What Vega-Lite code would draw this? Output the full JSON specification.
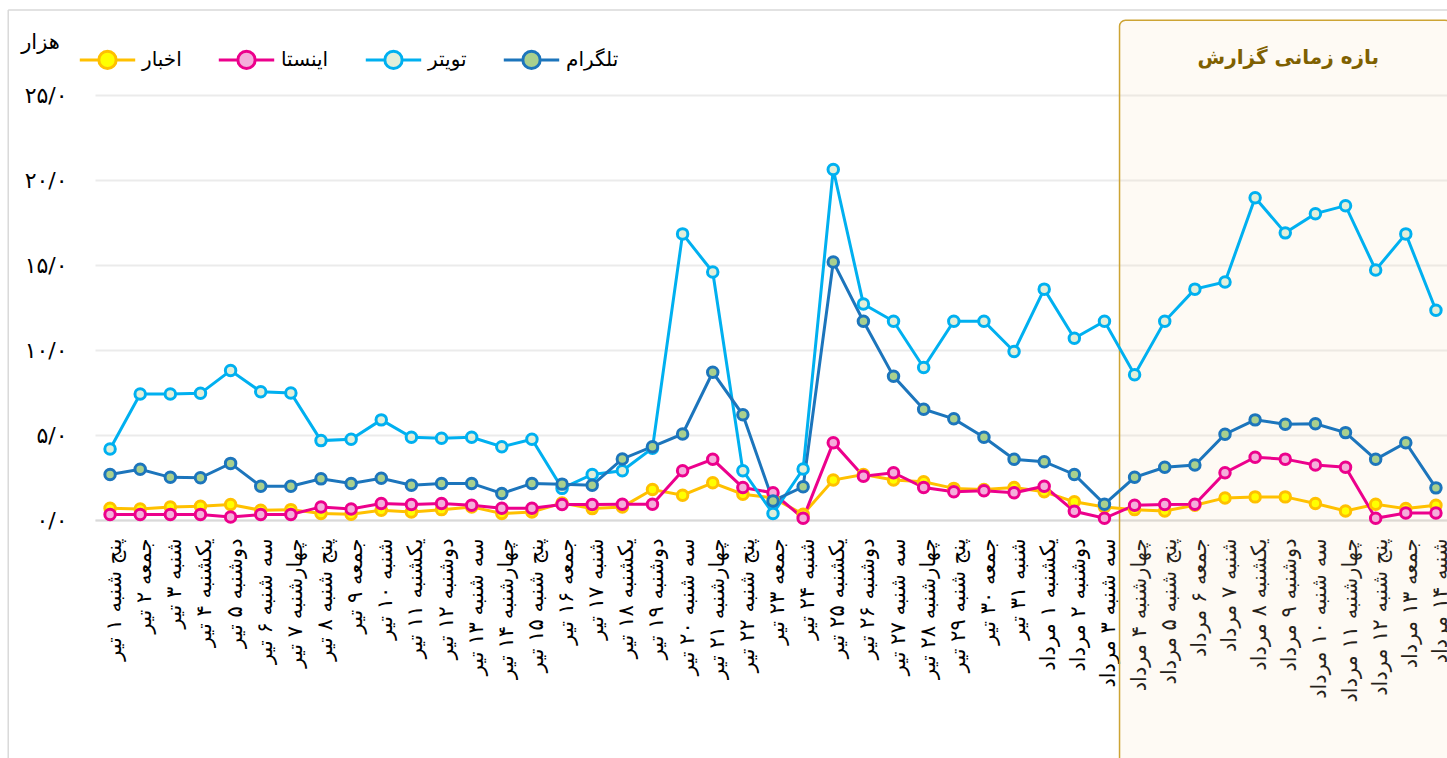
{
"$schema":"https://vega.github.io/schema/vega-lite/v6.json",
"width":1350,"height":425,
"autosize":{"type":"none"},
"padding":{"left":97,"top":95,"right":0,"bottom":238},
"background":"white",
"config":{"view":{"stroke":null},"font":"DejaVu Sans","text":{"font":"DejaVu Sans"}},
"datasets":{
"period":[{"start":"چهارشنبه ۴ مرداد","end":"شنبه ۱۴ مرداد","title":"بازه زمانی گزارش"}],
"frame":[{"first":"پنج شنبه ۱ تیر","last":"شنبه ۱۴ مرداد"}],
"main":[
{"day":"پنج شنبه ۱ تیر","series":"اخبار","value":0.69},
{"day":"جمعه ۲ تیر","series":"اخبار","value":0.65},
{"day":"شنبه ۳ تیر","series":"اخبار","value":0.77},
{"day":"یکشنبه ۴ تیر","series":"اخبار","value":0.81},
{"day":"دوشنبه ۵ تیر","series":"اخبار","value":0.91},
{"day":"سه شنبه ۶ تیر","series":"اخبار","value":0.57},
{"day":"چهارشنبه ۷ تیر","series":"اخبار","value":0.61},
{"day":"پنج شنبه ۸ تیر","series":"اخبار","value":0.38},
{"day":"جمعه ۹ تیر","series":"اخبار","value":0.34},
{"day":"شنبه ۱۰ تیر","series":"اخبار","value":0.57},
{"day":"یکشنبه ۱۱ تیر","series":"اخبار","value":0.47},
{"day":"دوشنبه ۱۲ تیر","series":"اخبار","value":0.61},
{"day":"سه شنبه ۱۳ تیر","series":"اخبار","value":0.77},
{"day":"چهارشنبه ۱۴ تیر","series":"اخبار","value":0.38},
{"day":"پنج شنبه ۱۵ تیر","series":"اخبار","value":0.47},
{"day":"جمعه ۱۶ تیر","series":"اخبار","value":1.0},
{"day":"شنبه ۱۷ تیر","series":"اخبار","value":0.67},
{"day":"یکشنبه ۱۸ تیر","series":"اخبار","value":0.77},
{"day":"دوشنبه ۱۹ تیر","series":"اخبار","value":1.79},
{"day":"سه شنبه ۲۰ تیر","series":"اخبار","value":1.46},
{"day":"چهارشنبه ۲۱ تیر","series":"اخبار","value":2.19},
{"day":"پنج شنبه ۲۲ تیر","series":"اخبار","value":1.52},
{"day":"جمعه ۲۳ تیر","series":"اخبار","value":1.3},
{"day":"شنبه ۲۴ تیر","series":"اخبار","value":0.34},
{"day":"یکشنبه ۲۵ تیر","series":"اخبار","value":2.35},
{"day":"دوشنبه ۲۶ تیر","series":"اخبار","value":2.68},
{"day":"سه شنبه ۲۷ تیر","series":"اخبار","value":2.35},
{"day":"چهارشنبه ۲۸ تیر","series":"اخبار","value":2.25},
{"day":"پنج شنبه ۲۹ تیر","series":"اخبار","value":1.86},
{"day":"جمعه ۳۰ تیر","series":"اخبار","value":1.79},
{"day":"شنبه ۳۱ تیر","series":"اخبار","value":1.91},
{"day":"یکشنبه ۱ مرداد","series":"اخبار","value":1.66},
{"day":"دوشنبه ۲ مرداد","series":"اخبار","value":1.07},
{"day":"سه شنبه ۳ مرداد","series":"اخبار","value":0.77},
{"day":"چهارشنبه ۴ مرداد","series":"اخبار","value":0.61},
{"day":"پنج شنبه ۵ مرداد","series":"اخبار","value":0.53},
{"day":"جمعه ۶ مرداد","series":"اخبار","value":0.87},
{"day":"شنبه ۷ مرداد","series":"اخبار","value":1.3},
{"day":"یکشنبه ۸ مرداد","series":"اخبار","value":1.36},
{"day":"دوشنبه ۹ مرداد","series":"اخبار","value":1.36},
{"day":"سه شنبه ۱۰ مرداد","series":"اخبار","value":0.97},
{"day":"چهارشنبه ۱۱ مرداد","series":"اخبار","value":0.53},
{"day":"پنج شنبه ۱۲ مرداد","series":"اخبار","value":0.93},
{"day":"جمعه ۱۳ مرداد","series":"اخبار","value":0.67},
{"day":"شنبه ۱۴ مرداد","series":"اخبار","value":0.87},
{"day":"پنج شنبه ۱ تیر","series":"اینستا","value":0.32},
{"day":"جمعه ۲ تیر","series":"اینستا","value":0.32},
{"day":"شنبه ۳ تیر","series":"اینستا","value":0.32},
{"day":"یکشنبه ۴ تیر","series":"اینستا","value":0.32},
{"day":"دوشنبه ۵ تیر","series":"اینستا","value":0.18},
{"day":"سه شنبه ۶ تیر","series":"اینستا","value":0.32},
{"day":"چهارشنبه ۷ تیر","series":"اینستا","value":0.32},
{"day":"پنج شنبه ۸ تیر","series":"اینستا","value":0.77},
{"day":"جمعه ۹ تیر","series":"اینستا","value":0.65},
{"day":"شنبه ۱۰ تیر","series":"اینستا","value":0.97},
{"day":"یکشنبه ۱۱ تیر","series":"اینستا","value":0.91},
{"day":"دوشنبه ۱۲ تیر","series":"اینستا","value":0.97},
{"day":"سه شنبه ۱۳ تیر","series":"اینستا","value":0.87},
{"day":"چهارشنبه ۱۴ تیر","series":"اینستا","value":0.69},
{"day":"پنج شنبه ۱۵ تیر","series":"اینستا","value":0.69},
{"day":"جمعه ۱۶ تیر","series":"اینستا","value":0.91},
{"day":"شنبه ۱۷ تیر","series":"اینستا","value":0.91},
{"day":"یکشنبه ۱۸ تیر","series":"اینستا","value":0.93},
{"day":"دوشنبه ۱۹ تیر","series":"اینستا","value":0.93},
{"day":"سه شنبه ۲۰ تیر","series":"اینستا","value":2.9},
{"day":"چهارشنبه ۲۱ تیر","series":"اینستا","value":3.57},
{"day":"پنج شنبه ۲۲ تیر","series":"اینستا","value":1.91},
{"day":"جمعه ۲۳ تیر","series":"اینستا","value":1.6},
{"day":"شنبه ۲۴ تیر","series":"اینستا","value":0.1},
{"day":"یکشنبه ۲۵ تیر","series":"اینستا","value":4.55},
{"day":"دوشنبه ۲۶ تیر","series":"اینستا","value":2.58},
{"day":"سه شنبه ۲۷ تیر","series":"اینستا","value":2.78},
{"day":"چهارشنبه ۲۸ تیر","series":"اینستا","value":1.91},
{"day":"پنج شنبه ۲۹ تیر","series":"اینستا","value":1.66},
{"day":"جمعه ۳۰ تیر","series":"اینستا","value":1.72},
{"day":"شنبه ۳۱ تیر","series":"اینستا","value":1.6},
{"day":"یکشنبه ۱ مرداد","series":"اینستا","value":1.99},
{"day":"دوشنبه ۲ مرداد","series":"اینستا","value":0.51},
{"day":"سه شنبه ۳ مرداد","series":"اینستا","value":0.1},
{"day":"چهارشنبه ۴ مرداد","series":"اینستا","value":0.87},
{"day":"پنج شنبه ۵ مرداد","series":"اینستا","value":0.91},
{"day":"جمعه ۶ مرداد","series":"اینستا","value":0.93},
{"day":"شنبه ۷ مرداد","series":"اینستا","value":2.78},
{"day":"یکشنبه ۸ مرداد","series":"اینستا","value":3.69},
{"day":"دوشنبه ۹ مرداد","series":"اینستا","value":3.58},
{"day":"سه شنبه ۱۰ مرداد","series":"اینستا","value":3.23},
{"day":"چهارشنبه ۱۱ مرداد","series":"اینستا","value":3.1},
{"day":"پنج شنبه ۱۲ مرداد","series":"اینستا","value":0.1},
{"day":"جمعه ۱۳ مرداد","series":"اینستا","value":0.41},
{"day":"شنبه ۱۴ مرداد","series":"اینستا","value":0.41},
{"day":"پنج شنبه ۱ تیر","series":"تویتر","value":4.18},
{"day":"جمعه ۲ تیر","series":"تویتر","value":7.41},
{"day":"شنبه ۳ تیر","series":"تویتر","value":7.41},
{"day":"یکشنبه ۴ تیر","series":"تویتر","value":7.45},
{"day":"دوشنبه ۵ تیر","series":"تویتر","value":8.79},
{"day":"سه شنبه ۶ تیر","series":"تویتر","value":7.55},
{"day":"چهارشنبه ۷ تیر","series":"تویتر","value":7.47},
{"day":"پنج شنبه ۸ تیر","series":"تویتر","value":4.67},
{"day":"جمعه ۹ تیر","series":"تویتر","value":4.75},
{"day":"شنبه ۱۰ تیر","series":"تویتر","value":5.89},
{"day":"یکشنبه ۱۱ تیر","series":"تویتر","value":4.87},
{"day":"دوشنبه ۱۲ تیر","series":"تویتر","value":4.81},
{"day":"سه شنبه ۱۳ تیر","series":"تویتر","value":4.87},
{"day":"چهارشنبه ۱۴ تیر","series":"تویتر","value":4.31},
{"day":"پنج شنبه ۱۵ تیر","series":"تویتر","value":4.75},
{"day":"جمعه ۱۶ تیر","series":"تویتر","value":1.86},
{"day":"شنبه ۱۷ تیر","series":"تویتر","value":2.68},
{"day":"یکشنبه ۱۸ تیر","series":"تویتر","value":2.9},
{"day":"دوشنبه ۱۹ تیر","series":"تویتر","value":4.22},
{"day":"سه شنبه ۲۰ تیر","series":"تویتر","value":16.83},
{"day":"چهارشنبه ۲۱ تیر","series":"تویتر","value":14.59},
{"day":"پنج شنبه ۲۲ تیر","series":"تویتر","value":2.9},
{"day":"جمعه ۲۳ تیر","series":"تویتر","value":0.38},
{"day":"شنبه ۲۴ تیر","series":"تویتر","value":3.0},
{"day":"یکشنبه ۲۵ تیر","series":"تویتر","value":20.62},
{"day":"دوشنبه ۲۶ تیر","series":"تویتر","value":12.7},
{"day":"سه شنبه ۲۷ تیر","series":"تویتر","value":11.69},
{"day":"چهارشنبه ۲۸ تیر","series":"تویتر","value":8.97},
{"day":"پنج شنبه ۲۹ تیر","series":"تویتر","value":11.69},
{"day":"جمعه ۳۰ تیر","series":"تویتر","value":11.69},
{"day":"شنبه ۳۱ تیر","series":"تویتر","value":9.91},
{"day":"یکشنبه ۱ مرداد","series":"تویتر","value":13.58},
{"day":"دوشنبه ۲ مرداد","series":"تویتر","value":10.69},
{"day":"سه شنبه ۳ مرداد","series":"تویتر","value":11.69},
{"day":"چهارشنبه ۴ مرداد","series":"تویتر","value":8.55},
{"day":"پنج شنبه ۵ مرداد","series":"تویتر","value":11.69},
{"day":"جمعه ۶ مرداد","series":"تویتر","value":13.58},
{"day":"شنبه ۷ مرداد","series":"تویتر","value":14.0},
{"day":"یکشنبه ۸ مرداد","series":"تویتر","value":18.96},
{"day":"دوشنبه ۹ مرداد","series":"تویتر","value":16.89},
{"day":"سه شنبه ۱۰ مرداد","series":"تویتر","value":18.02},
{"day":"چهارشنبه ۱۱ مرداد","series":"تویتر","value":18.49},
{"day":"پنج شنبه ۱۲ مرداد","series":"تویتر","value":14.71},
{"day":"جمعه ۱۳ مرداد","series":"تویتر","value":16.83},
{"day":"شنبه ۱۴ مرداد","series":"تویتر","value":12.34},
{"day":"پنج شنبه ۱ تیر","series":"تلگرام","value":2.68},
{"day":"جمعه ۲ تیر","series":"تلگرام","value":2.98},
{"day":"شنبه ۳ تیر","series":"تلگرام","value":2.51},
{"day":"یکشنبه ۴ تیر","series":"تلگرام","value":2.48},
{"day":"دوشنبه ۵ تیر","series":"تلگرام","value":3.33},
{"day":"سه شنبه ۶ تیر","series":"تلگرام","value":1.99},
{"day":"چهارشنبه ۷ تیر","series":"تلگرام","value":1.99},
{"day":"پنج شنبه ۸ تیر","series":"تلگرام","value":2.42},
{"day":"جمعه ۹ تیر","series":"تلگرام","value":2.15},
{"day":"شنبه ۱۰ تیر","series":"تلگرام","value":2.45},
{"day":"یکشنبه ۱۱ تیر","series":"تلگرام","value":2.05},
{"day":"دوشنبه ۱۲ تیر","series":"تلگرام","value":2.15},
{"day":"سه شنبه ۱۳ تیر","series":"تلگرام","value":2.15},
{"day":"چهارشنبه ۱۴ تیر","series":"تلگرام","value":1.56},
{"day":"پنج شنبه ۱۵ تیر","series":"تلگرام","value":2.15},
{"day":"جمعه ۱۶ تیر","series":"تلگرام","value":2.11},
{"day":"شنبه ۱۷ تیر","series":"تلگرام","value":2.05},
{"day":"یکشنبه ۱۸ تیر","series":"تلگرام","value":3.59},
{"day":"دوشنبه ۱۹ تیر","series":"تلگرام","value":4.31},
{"day":"سه شنبه ۲۰ تیر","series":"تلگرام","value":5.06},
{"day":"چهارشنبه ۲۱ تیر","series":"تلگرام","value":8.69},
{"day":"پنج شنبه ۲۲ تیر","series":"تلگرام","value":6.19},
{"day":"جمعه ۲۳ تیر","series":"تلگرام","value":1.12},
{"day":"شنبه ۲۴ تیر","series":"تلگرام","value":1.95},
{"day":"یکشنبه ۲۵ تیر","series":"تلگرام","value":15.18},
{"day":"دوشنبه ۲۶ تیر","series":"تلگرام","value":11.69},
{"day":"سه شنبه ۲۷ تیر","series":"تلگرام","value":8.45},
{"day":"چهارشنبه ۲۸ تیر","series":"تلگرام","value":6.52},
{"day":"پنج شنبه ۲۹ تیر","series":"تلگرام","value":5.95},
{"day":"جمعه ۳۰ تیر","series":"تلگرام","value":4.87},
{"day":"شنبه ۳۱ تیر","series":"تلگرام","value":3.57},
{"day":"یکشنبه ۱ مرداد","series":"تلگرام","value":3.43},
{"day":"دوشنبه ۲ مرداد","series":"تلگرام","value":2.68},
{"day":"سه شنبه ۳ مرداد","series":"تلگرام","value":0.93},
{"day":"چهارشنبه ۴ مرداد","series":"تلگرام","value":2.51},
{"day":"پنج شنبه ۵ مرداد","series":"تلگرام","value":3.1},
{"day":"جمعه ۶ مرداد","series":"تلگرام","value":3.23},
{"day":"شنبه ۷ مرداد","series":"تلگرام","value":5.05},
{"day":"یکشنبه ۸ مرداد","series":"تلگرام","value":5.89},
{"day":"دوشنبه ۹ مرداد","series":"تلگرام","value":5.63},
{"day":"سه شنبه ۱۰ مرداد","series":"تلگرام","value":5.66},
{"day":"چهارشنبه ۱۱ مرداد","series":"تلگرام","value":5.14},
{"day":"پنج شنبه ۱۲ مرداد","series":"تلگرام","value":3.57},
{"day":"جمعه ۱۳ مرداد","series":"تلگرام","value":4.55},
{"day":"شنبه ۱۴ مرداد","series":"تلگرام","value":1.89}
]},
"layer":[
{"data":{"name":"frame"},
 "mark":{"type":"rule","stroke":"#D9D9D9","strokeWidth":1.5},
 "encoding":{
  "x":{"field":"first","type":"nominal","bandPosition":-2.88,
   "scale":{"type":"band","paddingInner":0,"paddingOuter":0,"range":[-2,1354],"domain":["پنج شنبه ۱ تیر","جمعه ۲ تیر","شنبه ۳ تیر","یکشنبه ۴ تیر","دوشنبه ۵ تیر","سه شنبه ۶ تیر","چهارشنبه ۷ تیر","پنج شنبه ۸ تیر","جمعه ۹ تیر","شنبه ۱۰ تیر","یکشنبه ۱۱ تیر","دوشنبه ۱۲ تیر","سه شنبه ۱۳ تیر","چهارشنبه ۱۴ تیر","پنج شنبه ۱۵ تیر","جمعه ۱۶ تیر","شنبه ۱۷ تیر","یکشنبه ۱۸ تیر","دوشنبه ۱۹ تیر","سه شنبه ۲۰ تیر","چهارشنبه ۲۱ تیر","پنج شنبه ۲۲ تیر","جمعه ۲۳ تیر","شنبه ۲۴ تیر","یکشنبه ۲۵ تیر","دوشنبه ۲۶ تیر","سه شنبه ۲۷ تیر","چهارشنبه ۲۸ تیر","پنج شنبه ۲۹ تیر","جمعه ۳۰ تیر","شنبه ۳۱ تیر","یکشنبه ۱ مرداد","دوشنبه ۲ مرداد","سه شنبه ۳ مرداد","چهارشنبه ۴ مرداد","پنج شنبه ۵ مرداد","جمعه ۶ مرداد","شنبه ۷ مرداد","یکشنبه ۸ مرداد","دوشنبه ۹ مرداد","سه شنبه ۱۰ مرداد","چهارشنبه ۱۱ مرداد","پنج شنبه ۱۲ مرداد","جمعه ۱۳ مرداد","شنبه ۱۴ مرداد"]},
   "axis":{"title":null,"labelAngle":-90,"labelFontSize":21,"labelColor":"#000","labelPadding":18,"ticks":false,"domain":true,"domainColor":"#D9D9D9","domainWidth":2,"grid":false,"labelOffset":5,"labelOverlap":false,"labelLimit":0,"labelFont":"DejaVu Sans"}},
  "y":{"datum":30,"type":"quantitative","scale":{"domain":[0,25],"nice":false,"zero":true}},
  "y2":{"datum":-14.5}
 }},
{"data":{"name":"frame"},
 "mark":{"type":"rule","stroke":"#D9D9D9","strokeWidth":1.5},
 "encoding":{
  "x":{"field":"first","type":"nominal","bandPosition":-2.88},
  "x2":{"field":"last","bandPosition":1.5},
  "y":{"datum":30,"type":"quantitative"}
 }},
{"data":{"name":"period"},
 "mark":{"type":"rect","fill":"#F5DEB3","fillOpacity":0.15,"stroke":"#CDA434","strokeWidth":1.5,"cornerRadius":6},
 "encoding":{
  "x":{"field":"start","type":"nominal","bandPosition":0},
  "x2":{"field":"end","bandPosition":1},
  "y":{"datum":29.4,"type":"quantitative"},
  "y2":{"datum":-14.5}
 }},
{"data":{"name":"period"},
 "mark":{"type":"text","fontSize":20,"fontWeight":"bold","color":"#7F6000","font":"DejaVu Sans"},
 "encoding":{
  "x":{"datum":"دوشنبه ۹ مرداد","type":"nominal","bandPosition":0.6},
  "y":{"datum":27.2,"type":"quantitative"},
  "text":{"field":"title"}
 }},
{"data":{"name":"main"},
 "mark":{"type":"line","strokeWidth":3},
 "encoding":{
  "x":{"field":"day","type":"nominal","bandPosition":0.5},
  "y":{"field":"value","type":"quantitative",
   "axis":{"values":[0,5,10,15,20,25],"labelExpr":"datum.value == 0 ? '۰/۰' : datum.value == 5 ? '۵/۰' : datum.value == 10 ? '۱۰/۰' : datum.value == 15 ? '۱۵/۰' : datum.value == 20 ? '۲۰/۰' : '۲۵/۰'","grid":true,"gridColor":"#EBEBEB","gridWidth":2,"domain":false,"ticks":false,"labelPadding":30,"labelFontSize":22,"labelColor":"#000","labelFont":"DejaVu Sans","title":"هزار","titleAngle":0,"titleX":-57,"titleY":-53,"titleAlign":"center","titleBaseline":"middle","titleFontSize":21,"titleFontWeight":"normal","titleColor":"#000","titleFont":"DejaVu Sans"}},
  "stroke":{"field":"series","type":"nominal",
   "scale":{"domain":["اخبار","اینستا","تویتر","تلگرام"],"range":["#FFC000","#EC008C","#00B0F0","#1C75BC"]},
   "legend":{"orient":"none","legendX":0,"legendY":-46,"direction":"horizontal","title":null,"symbolType":"M-3.2,0L-1,0M1,0L3.2,0M1,0A1,1,0,1,1,-1,0A1,1,0,1,1,1,0Z","symbolSize":300,"symbolStrokeWidth":3,"labelFontSize":20,"labelColor":"#000","labelFont":"DejaVu Sans","columnPadding":30,"labelOffset":24,
    "encode":{"symbols":{"update":{"fill":{"scale":"fill","field":"value"},"opacity":{"value":1}}}}}},
  "order":{"value":null}
 }},
{"data":{"name":"main"},
 "mark":{"type":"point","shape":"circle","filled":true,"size":110,"strokeWidth":3,"opacity":1},
 "encoding":{
  "x":{"field":"day","type":"nominal","bandPosition":0.5},
  "y":{"field":"value","type":"quantitative"},
  "stroke":{"field":"series","type":"nominal"},
  "fill":{"field":"series","type":"nominal","legend":null,
   "scale":{"domain":["اخبار","اینستا","تویتر","تلگرام"],"range":["#FFFF00","#F4AEDB","#E2EFDA","#A9D08E"]}}
 }}
]
}
